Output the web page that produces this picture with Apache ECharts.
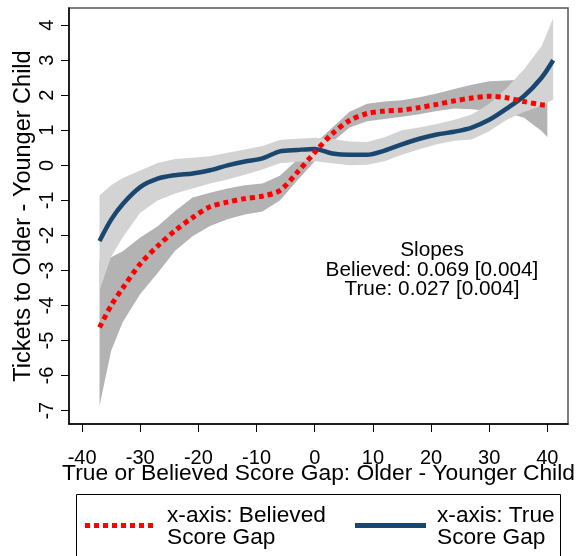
<!DOCTYPE html>
<html style="height: 100%">
<head>
    <meta charset="UTF-8">
    <title>Tickets vs score gap</title>
</head>
<body style="height: 100%; margin: 0; background: #fff">
<div id="container" style="width: 584px; height: 556px"></div>

<script type="text/javascript" src="https://cdn.jsdelivr.net/npm/echarts@6.0.0/dist/echarts.min.js"></script>
<script type="text/javascript">
    // tick labels
    var xTicks = [-40, -30, -20, -10, 0, 10, 20, 30, 40];
    var yTicks = [-7, -6, -5, -4, -3, -2, -1, 0, 1, 2, 3, 4];

    // x-axis: True score gap (fit + confidence band)
    var trueX = [-37, -35, -33, -30, -27, -24, -21, -18, -15, -12, -9, -6, -3, 0, 3, 6, 9, 12, 15, 18, 21, 24, 27, 30, 33, 36, 39, 41];
    var trueFit = [-2.16, -1.55, -1.1, -0.62, -0.38, -0.28, -0.23, -0.14, 0.0, 0.11, 0.2, 0.4, 0.44, 0.47, 0.34, 0.3, 0.3, 0.42, 0.6, 0.76, 0.88, 0.96, 1.08, 1.3, 1.62, 1.98, 2.5, 3.0];
    var trueLo = [-3.57, -2.6, -2.05, -1.35, -1.0, -0.8, -0.66, -0.52, -0.4, -0.27, -0.12, 0.06, 0.1, 0.12, 0.06, 0.0, 0.02, 0.12, 0.3, 0.46, 0.6, 0.7, 0.74, 0.97, 1.3, 1.52, 1.7, 1.88];
    var trueHi = [-0.86, -0.57, -0.36, -0.15, 0.07, 0.18, 0.22, 0.26, 0.36, 0.45, 0.55, 0.72, 0.76, 0.79, 0.75, 0.68, 0.67, 0.8, 1.0, 1.08, 1.18, 1.3, 1.45, 1.76, 2.21, 2.74, 3.4, 4.2];

    // x-axis: Believed score gap (fit + confidence band)
    var belX = [-37, -35, -33, -30, -27, -24, -21, -18, -15, -12, -9, -6, -3, 0, 3, 6, 9, 12, 15, 18, 21, 24, 27, 30, 33, 36, 39, 40];
    var belFit = [-4.62, -4.0, -3.5, -2.81, -2.3, -1.86, -1.49, -1.18, -1.05, -0.95, -0.88, -0.72, -0.2, 0.37, 0.9, 1.28, 1.48, 1.55, 1.58, 1.65, 1.74, 1.84, 1.92, 1.97, 1.93, 1.82, 1.73, 1.72];
    var belLo = [-6.86, -5.29, -4.47, -3.67, -3.07, -2.44, -2.02, -1.73, -1.54, -1.4, -1.32, -1.0, -0.43, 0.12, 0.67, 1.08, 1.26, 1.32, 1.39, 1.46, 1.55, 1.62, 1.6, 1.55, 1.5, 1.36, 0.98, 0.81];
    var belHi = [-2.7, -2.62, -2.45, -2.06, -1.74, -1.3, -0.92, -0.78, -0.66, -0.57, -0.52, -0.3, 0.16, 0.62, 1.07, 1.53, 1.76, 1.82, 1.86, 1.94, 2.05, 2.18, 2.3, 2.4, 2.42, 2.45, 2.5, 2.55];

    var FONT = '"Liberation Sans", Arial, Helvetica, sans-serif';
    var BLUE = '#1a476f';
    var RED = '#ff0000';

    function pairs(xs, ys) {
        return xs.map(function (x, i) { return [x, ys[i]]; });
    }

    // confidence band drawn as one polygon through the axes' scales
    function band(name, xs, lo, hi, color) {
        return {
            name: name,
            type: 'custom',
            silent: true,
            data: xs.map(function (x, i) { return [x, lo[i], hi[i]]; }),
            renderItem: function (params, api) {
                if (params.dataIndex !== 0) return;
                var pts = [];
                for (var i = 0; i < xs.length; i++) pts.push(api.coord([xs[i], hi[i]]));
                for (var j = xs.length - 1; j >= 0; j--) pts.push(api.coord([xs[j], lo[j]]));
                return {
                    type: 'polygon',
                    shape: {points: pts},
                    style: {fill: color, stroke: null}
                };
            }
        };
    }

    var dom = document.getElementById('container');
    var myChart = echarts.init(dom, null, {renderer: 'canvas'});

    var option = {
        animation: false,
        backgroundColor: '#fff',
        grid: {
            left: 69, top: 8, right: 16, bottom: 132,
            show: true, borderColor: '#555', borderWidth: 1.5
        },
        xAxis: {
            type: 'value',
            min: -42.25,
            max: 43.55,
            splitLine: {show: false},
            axisLine: {onZero: false, lineStyle: {color: '#000', width: 1.5}},
            axisTick: {customValues: xTicks, length: 8, lineStyle: {color: '#000', width: 1}},
            axisLabel: {customValues: xTicks, fontSize: 20, color: '#000', margin: 24, fontFamily: FONT},
            name: 'True or Believed Score Gap: Older - Younger Child',
            nameLocation: 'middle',
            nameGap: 38,
            nameMoveOverlap: false,
            nameTextStyle: {fontSize: 22.8, color: '#000', fontFamily: FONT}
        },
        yAxis: {
            type: 'value',
            min: -7.38,
            max: 4.49,
            splitLine: {show: false},
            axisLine: {onZero: false, lineStyle: {color: '#000', width: 1.5}},
            axisTick: {customValues: yTicks, length: 8, lineStyle: {color: '#000', width: 1}},
            axisLabel: {customValues: yTicks, rotate: 90, fontSize: 20, color: '#000', margin: 12, fontFamily: FONT},
            name: 'Tickets to Older - Younger Child',
            nameLocation: 'middle',
            nameGap: 33,
            nameMoveOverlap: false,
            nameTextStyle: {fontSize: 23.5, color: '#000', fontFamily: FONT}
        },
        series: [
            band('Believed band', belX, belLo, belHi, '#b3b3b3'),
            band('True band', trueX, trueLo, trueHi, '#d3d3d3'),
            {
                name: 'x-axis: True Score Gap',
                type: 'line',
                data: pairs(trueX, trueFit),
                smooth: 0.3,
                symbol: 'none',
                lineStyle: {color: BLUE, width: 4.5}
            },
            {
                name: 'x-axis: Believed Score Gap',
                type: 'line',
                data: pairs(belX, belFit),
                smooth: 0.3,
                symbol: 'none',
                lineStyle: {color: RED, width: 5, type: [5, 4], cap: 'butt'}
            }
        ],
        graphic: [
            {
                type: 'text', x: 432, y: 241,
                style: {
                    text: 'Slopes\nBelieved: 0.069 [0.004]\nTrue: 0.027 [0.004]',
                    align: 'center', textAlign: 'center', verticalAlign: 'top',
                    font: '20.8px ' + FONT, lineHeight: 19.5, fill: '#000'
                }
            },
            {
                type: 'rect', z: 10,
                shape: {x: 76.5, y: 494.5, width: 484, height: 80},
                style: {fill: '#fff', stroke: '#000', lineWidth: 1}
            },
            {
                type: 'line', z: 11,
                shape: {x1: 85, y1: 525.5, x2: 153, y2: 525.5},
                style: {stroke: RED, lineWidth: 5, lineDash: [5, 4]}
            },
            {
                type: 'text', z: 11, x: 167, y: 505,
                style: {text: 'x-axis: Believed\nScore Gap', font: '22.7px ' + FONT, lineHeight: 21.6, fill: '#000', verticalAlign: 'top'}
            },
            {
                type: 'line', z: 11,
                shape: {x1: 355, y1: 525.5, x2: 426, y2: 525.5},
                style: {stroke: BLUE, lineWidth: 5}
            },
            {
                type: 'text', z: 11, x: 437, y: 505,
                style: {text: 'x-axis: True\nScore Gap', font: '22.7px ' + FONT, lineHeight: 21.6, fill: '#000', verticalAlign: 'top'}
            }
        ]
    };

    myChart.setOption(option);
</script>
</body>
</html>
